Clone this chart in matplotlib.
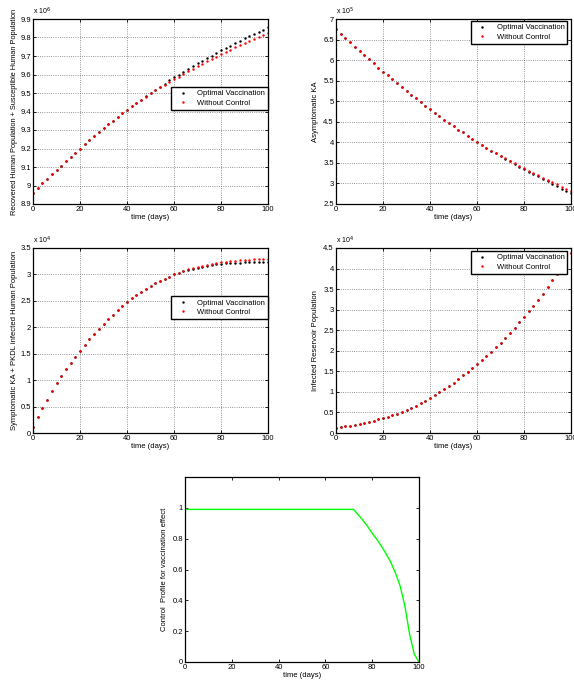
import matplotlib
matplotlib.use("Agg")
import matplotlib.pyplot as plt

plt.rcParams["font.family"] = ["Liberation Sans", "DejaVu Sans"]

# time grid (days), one sample every 2 days
t = list(range(0, 101, 2))

# Recovered + Susceptible human population (x 10^6)
rs_opt = [8.960, 8.986, 9.011, 9.036, 9.061, 9.085, 9.108, 9.131, 9.154, 9.177,
          9.200, 9.222, 9.244, 9.266, 9.288, 9.310, 9.330, 9.350, 9.370, 9.390,
          9.410, 9.428, 9.446, 9.464, 9.482, 9.500, 9.517, 9.534, 9.551, 9.568,
          9.585, 9.600, 9.615, 9.630, 9.645, 9.660, 9.674, 9.688, 9.702, 9.716,
          9.730, 9.743, 9.756, 9.769, 9.782, 9.795, 9.807, 9.819, 9.831, 9.843, 9.855]
rs_noc = [8.960, 8.986, 9.011, 9.036, 9.061, 9.085, 9.108, 9.131, 9.154, 9.177,
          9.200, 9.222, 9.244, 9.266, 9.288, 9.310, 9.330, 9.350, 9.370, 9.390,
          9.410, 9.428, 9.446, 9.463, 9.481, 9.498, 9.514, 9.530, 9.545, 9.560,
          9.575, 9.589, 9.603, 9.617, 9.631, 9.645, 9.658, 9.671, 9.684, 9.697,
          9.710, 9.722, 9.734, 9.746, 9.758, 9.770, 9.781, 9.792, 9.803, 9.814, 9.825]

# Asymptomatic KA (x 10^5)
asym_opt = [6.75, 6.64, 6.53, 6.43, 6.32, 6.22, 6.12, 6.02, 5.92, 5.82,
            5.72, 5.63, 5.53, 5.44, 5.34, 5.25, 5.16, 5.07, 4.98, 4.89,
            4.80, 4.72, 4.64, 4.55, 4.47, 4.39, 4.31, 4.24, 4.16, 4.09,
            4.01, 3.94, 3.87, 3.80, 3.73, 3.66, 3.60, 3.54, 3.47, 3.41,
            3.35, 3.29, 3.23, 3.17, 3.11, 3.05, 2.99, 2.93, 2.87, 2.82, 2.76]
asym_noc = [6.75, 6.64, 6.53, 6.43, 6.32, 6.22, 6.12, 6.02, 5.92, 5.82,
            5.72, 5.63, 5.53, 5.44, 5.34, 5.25, 5.16, 5.07, 4.98, 4.89,
            4.80, 4.72, 4.64, 4.55, 4.47, 4.39, 4.31, 4.24, 4.16, 4.09,
            4.01, 3.94, 3.87, 3.80, 3.735, 3.67, 3.61, 3.55, 3.49, 3.43,
            3.37, 3.31, 3.26, 3.20, 3.14, 3.09, 3.03, 2.98, 2.92, 2.87, 2.81]

# Symptomatic KA + PKDL infected (x 10^4)
symp_opt = [0.12, 0.30, 0.47, 0.63, 0.79, 0.94, 1.08, 1.21, 1.33, 1.44,
            1.55, 1.66, 1.77, 1.87, 1.97, 2.07, 2.16, 2.24, 2.33, 2.41,
            2.48, 2.55, 2.61, 2.67, 2.73, 2.78, 2.83, 2.87, 2.92, 2.96,
            3.00, 3.03, 3.06, 3.09, 3.11, 3.13, 3.15, 3.165, 3.18, 3.19,
            3.20, 3.21, 3.215, 3.22, 3.225, 3.23, 3.232, 3.235, 3.237, 3.24, 3.24]
symp_noc = [0.12, 0.30, 0.47, 0.63, 0.79, 0.94, 1.08, 1.21, 1.33, 1.44,
            1.55, 1.66, 1.77, 1.87, 1.97, 2.07, 2.16, 2.24, 2.33, 2.41,
            2.48, 2.55, 2.61, 2.67, 2.73, 2.78, 2.83, 2.87, 2.92, 2.96,
            3.00, 3.03, 3.06, 3.095, 3.12, 3.14, 3.165, 3.185, 3.20, 3.215,
            3.23, 3.24, 3.25, 3.26, 3.265, 3.275, 3.28, 3.285, 3.29, 3.295, 3.30]

# Infected reservoir population (x 10^4)
res_opt = [0.13, 0.145, 0.16, 0.18, 0.20, 0.22, 0.245, 0.27, 0.30, 0.33,
           0.36, 0.395, 0.43, 0.47, 0.51, 0.56, 0.61, 0.66, 0.72, 0.78,
           0.85, 0.92, 0.99, 1.06, 1.14, 1.22, 1.31, 1.40, 1.49, 1.58,
           1.68, 1.78, 1.88, 1.98, 2.09, 2.20, 2.32, 2.44, 2.56, 2.69,
           2.82, 2.96, 3.10, 3.24, 3.39, 3.55, 3.71, 3.87, 4.04, 4.21, 4.38]
res_noc = [0.13, 0.145, 0.16, 0.18, 0.20, 0.22, 0.245, 0.27, 0.30, 0.33,
           0.36, 0.395, 0.43, 0.47, 0.51, 0.56, 0.61, 0.66, 0.72, 0.78,
           0.85, 0.92, 0.99, 1.06, 1.14, 1.22, 1.31, 1.40, 1.49, 1.58,
           1.68, 1.78, 1.88, 1.98, 2.09, 2.20, 2.32, 2.44, 2.56, 2.69,
           2.82, 2.96, 3.10, 3.24, 3.39, 3.55, 3.71, 3.87, 4.04, 4.21, 4.39]

# control profile
u_t = [0, 72, 74, 76, 78, 80, 82, 84, 86, 88, 90, 92, 94, 96, 98, 100]
u_val = [0.99, 0.99, 0.955, 0.92, 0.88, 0.835, 0.795, 0.75, 0.70, 0.645,
         0.575, 0.49, 0.36, 0.18, 0.05, 0.0]

W, H = 574, 683
fig = plt.figure(figsize=(W / 100, H / 100), dpi=100)


def box(l, t_, r, b):
    return [l / W, 1 - b / H, (r - l) / W, (b - t_) / H]


def style(ax, grid=True):
    ax.tick_params(direction="in", top=True, right=True, length=2.5,
                   width=0.6, labelsize=5.5, pad=1.5)
    for s in ax.spines.values():
        s.set_linewidth(0.9)
    if grid:
        ax.grid(True, linestyle=":", color="0.45", linewidth=0.6)
    ax.set_xlim(0, 100)
    ax.set_xticks([0, 20, 40, 60, 80, 100])
    ax.set_xlabel("time (days)", fontsize=5.5, labelpad=0.5)


def exp_text(ax, p):
    ax.text(0.0, 1.012, r"x 10$^{%d}$" % p, transform=ax.transAxes,
            fontsize=5, ha="left", va="bottom")


def dots(ax, y1, y2, leg_anchor):
    ax.plot(t, y1, ".", color="k", ms=1.5, label="Optimal Vaccination")
    ax.plot(t, y2, ".", color="r", ms=1.5, label="Without Control")
    lg = ax.legend(loc="upper right", bbox_to_anchor=leg_anchor, fontsize=5.5,
                   numpoints=1, handlelength=2.2, borderpad=0.4,
                   labelspacing=0.3, fancybox=False, framealpha=1,
                   edgecolor="k", borderaxespad=0)
    lg.get_frame().set_linewidth(1.0)


# panel 1
ax1 = fig.add_axes(box(33, 19, 268, 204))
dots(ax1, rs_opt, rs_noc, (1.0, 0.633))
ax1.set_ylim(8.9, 9.9)
ax1.set_yticks([8.9, 9.0, 9.1, 9.2, 9.3, 9.4, 9.5, 9.6, 9.7, 9.8, 9.9])
ax1.set_yticklabels(["8.9", "9", "9.1", "9.2", "9.3", "9.4", "9.5", "9.6", "9.7", "9.8", "9.9"])
ax1.set_ylabel("Recovered Human Population + Susceptible Human Population", fontsize=5.3, labelpad=2)
style(ax1)
exp_text(ax1, 6)

# panel 2
ax2 = fig.add_axes(box(336, 19, 571, 204))
dots(ax2, asym_opt, asym_noc, (0.985, 0.99))
ax2.set_ylim(2.5, 7)
ax2.set_yticks([2.5, 3, 3.5, 4, 4.5, 5, 5.5, 6, 6.5, 7])
ax2.set_yticklabels(["2.5", "3", "3.5", "4", "4.5", "5", "5.5", "6", "6.5", "7"])
ax2.set_ylabel("Asymptomatic KA", fontsize=5.5, labelpad=3)
style(ax2)
exp_text(ax2, 5)

# panel 3
ax3 = fig.add_axes(box(33, 248, 268, 433))
dots(ax3, symp_opt, symp_noc, (1.0, 0.74))
ax3.set_ylim(0, 3.5)
ax3.set_yticks([0, 0.5, 1, 1.5, 2, 2.5, 3, 3.5])
ax3.set_yticklabels(["0", "0.5", "1", "1.5", "2", "2.5", "3", "3.5"])
ax3.set_ylabel("Symptomatic KA + PKDL infected Human Population", fontsize=5.5, labelpad=2)
style(ax3)
exp_text(ax3, 4)

# panel 4
ax4 = fig.add_axes(box(336, 248, 571, 433))
dots(ax4, res_opt, res_noc, (0.985, 0.985))
ax4.set_ylim(0, 4.5)
ax4.set_yticks([0, 0.5, 1, 1.5, 2, 2.5, 3, 3.5, 4, 4.5])
ax4.set_yticklabels(["0", "0.5", "1", "1.5", "2", "2.5", "3", "3.5", "4", "4.5"])
ax4.set_ylabel("Infected Reservoir Population", fontsize=5.5, labelpad=3)
style(ax4)
exp_text(ax4, 4)

# panel 5: control profile
ax5 = fig.add_axes(box(185, 477, 419, 662))
ax5.plot(u_t, u_val, color="#00ff00", lw=1.0)
ax5.set_ylim(0, 1.2)
ax5.set_yticks([0, 0.2, 0.4, 0.6, 0.8, 1])
ax5.set_yticklabels(["0", "0.2", "0.4", "0.6", "0.8", "1"])
ax5.set_ylabel("Control  Profile for vaccination effect", fontsize=5.5, labelpad=3)
style(ax5, grid=False)

fig.savefig("out.png", dpi=100)
